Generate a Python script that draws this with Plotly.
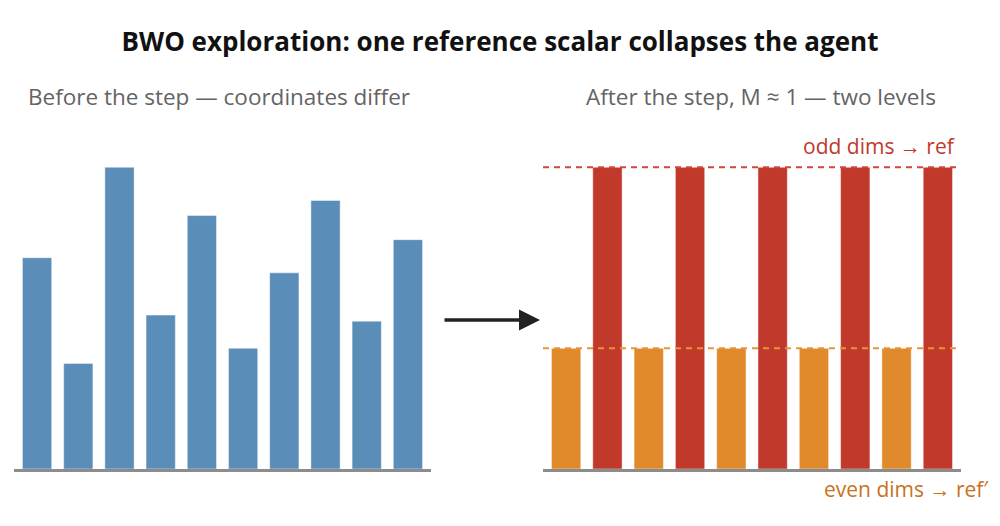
import plotly.graph_objects as go
from plotly.subplots import make_subplots

# ---- data ----
dims = list(range(10))
before_values = [0.70, 0.35, 1.00, 0.51, 0.84, 0.40, 0.65, 0.89, 0.49, 0.76]
ref_odd = 1.00      # odd dims collapse to ref
ref_even = 0.40     # even dims collapse to ref'
after_values = [ref_even if d % 2 == 0 else ref_odd for d in dims]

title_text = "BWO exploration: one reference scalar collapses the agent"
left_title = "Before the step — coordinates differ"
right_title = "After the step, M ≈ 1 — two levels"
odd_label = "odd dims → ref"
even_label = "even dims → ref′"

BLUE = "#5b8db9"
RED = "#c0392b"
ORANGE = "#e08a2c"
ORANGE_TXT = "#c8711f"
GRAY_TXT = "#646464"
FONT = "Open Sans"

fig = make_subplots(rows=1, cols=2)

fig.add_trace(go.Bar(
    x=dims, y=before_values,
    marker=dict(color=BLUE, line=dict(color="rgba(255,255,255,0.45)", width=1)),
    showlegend=False, hoverinfo="skip"), row=1, col=1)

fig.add_trace(go.Bar(
    x=dims, y=after_values,
    marker=dict(color=[ORANGE if d % 2 == 0 else RED for d in dims],
                line=dict(color="rgba(255,255,255,0.45)", width=1)),
    showlegend=False, hoverinfo="skip"), row=1, col=2)

axis_common = dict(showticklabels=False, showgrid=False, zeroline=False,
                   ticks="", range=[-0.56, 9.56], showline=True,
                   linecolor="#8c8c8c", linewidth=2.5)
fig.update_xaxes(domain=[0.014, 0.431], row=1, col=1, **axis_common)
fig.update_xaxes(domain=[0.543, 0.961], row=1, col=2, **axis_common)
fig.update_yaxes(range=[0, 1.15], showticklabels=False, showgrid=False,
                 zeroline=False, showline=False, ticks="")

# reference level dashed lines
for lvl, col in [(ref_odd, "#d0483b"), (ref_even, "#e8953a")]:
    fig.add_shape(type="line", xref="x2 domain", yref="y2",
                  x0=0, x1=1, y0=lvl, y1=lvl, layer="above",
                  line=dict(color=col, width=2, dash="6px,5px"))

def py(pix):
    # convert pixel row to paper y (plot area 122..469)
    return (469 - pix) / 347

annotations = [
    dict(text=left_title, x=0.2185, y=py(96), xref="paper", yref="paper",
         showarrow=False, xanchor="center", yanchor="middle",
         font=dict(family=FONT, size=22.5, color=GRAY_TXT)),
    dict(text=right_title, x=0.7605, y=py(96), xref="paper", yref="paper",
         showarrow=False, xanchor="center", yanchor="middle",
         font=dict(family=FONT, size=22.5, color=GRAY_TXT)),
    dict(text=odd_label, x=0.958, y=py(146), xref="paper", yref="paper",
         showarrow=False, xanchor="right", yanchor="middle",
         font=dict(family=FONT, size=21, color=RED)),
    dict(text=even_label, x=0.991, y=py(489), xref="paper", yref="paper",
         showarrow=False, xanchor="right", yanchor="middle",
         font=dict(family=FONT, size=21, color=ORANGE_TXT)),
    dict(text="", x=0.540, y=py(320), xref="paper", yref="paper",
         ax=-97, ay=0, axref="pixel", ayref="pixel", showarrow=True,
         arrowhead=2, arrowsize=1.2, arrowwidth=3.5, arrowcolor="#222222"),
]

fig.update_layout(
    width=1000, height=526,
    margin=dict(l=0, r=0, t=122, b=57),
    paper_bgcolor="white", plot_bgcolor="white",
    bargap=0.29,
    title=dict(text="<b>" + title_text + "</b>", x=0.5, xanchor="center",
               y=1 - 42 / 526, yanchor="middle",
               font=dict(family=FONT, size=26, color="#111111")),
    annotations=annotations,
)

fig.write_html("out.html")
